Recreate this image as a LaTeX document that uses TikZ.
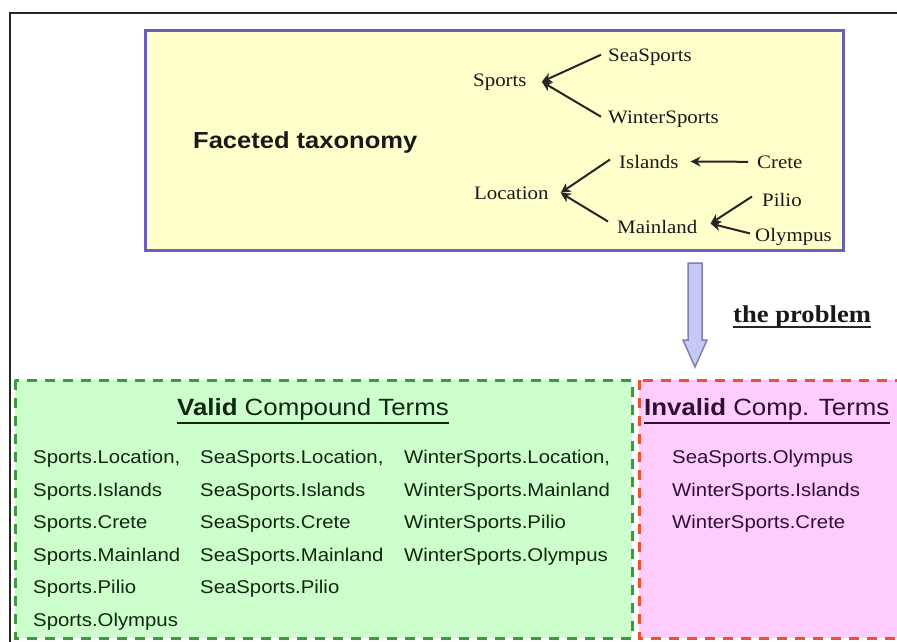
\documentclass[tikz,border=0pt]{standalone}
\usepackage{fontspec}
\setmainfont{Liberation Serif}
\newfontfamily\taxfont{Liberation Serif}[FakeStretch=1.1]
\newfontfamily\termfont{Liberation Sans}[FakeStretch=1.1]
\usetikzlibrary{arrows.meta}

\definecolor{frameblue}{HTML}{6A5FC0}
\definecolor{paleyellow}{HTML}{FFFFCC}
\definecolor{palegreen}{HTML}{CCFFCC}
\definecolor{dashgreen}{HTML}{3C9A3C}
\definecolor{palepink}{HTML}{FFCCFF}
\definecolor{dashred}{HTML}{F0502A}
\definecolor{arrowfill}{HTML}{C6C9F4}
\definecolor{arrowedge}{HTML}{7E80B0}
\definecolor{greentext}{HTML}{102810}
\definecolor{pinktext}{HTML}{2E1030}

\tikzset{
  tax/.style={font=\taxfont\fontsize{19}{22}\selectfont, text=black!90,
    inner sep=3pt, anchor=base west},
  link/.style={line width=2pt, draw=black!85,
    -{Stealth[length=10pt,width=10pt]}},
  term/.style={font=\termfont\fontsize{18.5}{22}\selectfont,
    anchor=base west, inner sep=0pt},
  vterm/.style={term, text=greentext},
  iterm/.style={term, text=pinktext},
  heading/.style={font=\termfont\fontsize{23.5}{28}\selectfont,
    anchor=base west, inner sep=0pt},
  termbox/.style={line width=3pt, dash pattern=on 10pt off 8pt},
  headrule/.style={line width=1.2pt},
}

\begin{document}
\begin{tikzpicture}[x=1pt, y=-1pt]
  \useasboundingbox (0,0) rectangle (897,641);
  \clip (0,0) rectangle (897,641);

  % outer frame
  \draw[line width=2pt, black!85] (10,13) rectangle (960,700);

  % taxonomy panel
  \draw[line width=3pt, draw=frameblue, fill=paleyellow] (145,30) rectangle (843,250);
  \node[font=\termfont\bfseries\fontsize{23.2}{28}\selectfont, anchor=base west,
        inner sep=0pt, text=black!90] (ft) at (193,148) {Faceted taxonomy};

  \node[tax] (sports) at (470,86) {Sports};
  \node[tax] (sea)    at (605,61) {SeaSports};
  \node[tax] (winter) at (605,123) {WinterSports};
  \node[tax] (loc)    at (471,199) {Location};
  \node[tax] (isl)    at (616,168) {Islands};
  \node[tax] (crete)  at (754,168) {Crete};
  \node[tax] (main)   at (614,233) {Mainland};
  \node[tax] (pilio)  at (759,206) {Pilio};
  \node[tax] (olymp)  at (752,241) {Olympus};

  \draw[link] ([xshift=-4pt,yshift=2pt]sea.west)    -- ([xshift=12pt]sports.east);
  \draw[link] ([xshift=-4pt,yshift=2pt]winter.west) -- ([xshift=12pt]sports.east);
  \draw[link] ([xshift=-6pt]crete.west) -- ([xshift=9pt]isl.east);
  \draw[link] ([xshift=-6pt,yshift=2pt]isl.west)  -- ([xshift=9pt]loc.east);
  \draw[link] ([xshift=-6pt,yshift=5pt]main.west) -- ([xshift=9pt]loc.east);
  \draw[link] ([xshift=-7pt,yshift=3pt]pilio.west) -- ([xshift=10pt,yshift=3pt]main.east);
  \draw[link] ([xshift=-2pt,yshift=3pt]olymp.west) -- ([xshift=10pt,yshift=3pt]main.east);

  % block arrow and its label
  \draw[line width=1.5pt, draw=arrowedge, fill=arrowfill, line join=miter]
    (688,263) -- (702,263) -- (702,340) -- (707,340) -- (695,367)
    -- (683,340) -- (688,340) -- cycle;
  \node[font=\taxfont\bfseries\fontsize{24.2}{30}\selectfont, anchor=base west,
        inner sep=0pt, text=black!90] (prob) at (733,322) {the problem};
  \draw[headrule, black!85] ([yshift=-5pt]prob.base west) -- ([yshift=-5pt]prob.base east);

  % valid compound terms
  \draw[termbox, draw=dashgreen, fill=palegreen] (15,380) rectangle (632,638);
  \node[heading, text=greentext] (vh) at (177,415)
    {\textbf{Valid} Compound Terms};
  \draw[headrule, greentext] ([yshift=-8pt]vh.base west) -- ([yshift=-8pt]vh.base east);

  \node[vterm] (a1) at (33,463.5) {Sports.Location,};
  \node[vterm] (a2) at (33,496)   {Sports.Islands};
  \node[vterm] (a3) at (33,528.5) {Sports.Crete};
  \node[vterm] (a4) at (33,561)   {Sports.Mainland};
  \node[vterm] (a5) at (33,593.5) {Sports.Pilio};
  \node[vterm] (a6) at (33,626)   {Sports.Olympus};

  \node[vterm] (b1) at (200,463.5) {SeaSports.Location,};
  \node[vterm] (b2) at (200,496)   {SeaSports.Islands};
  \node[vterm] (b3) at (200,528.5) {SeaSports.Crete};
  \node[vterm] (b4) at (200,561)   {SeaSports.Mainland};
  \node[vterm] (b5) at (200,593.5) {SeaSports.Pilio};

  \node[vterm] (c1) at (404,463.5) {WinterSports.Location,};
  \node[vterm] (c2) at (404,496)   {WinterSports.Mainland};
  \node[vterm] (c3) at (404,528.5) {WinterSports.Pilio};
  \node[vterm] (c4) at (404,561)   {WinterSports.Olympus};

  % invalid compound terms
  \draw[termbox, draw=dashred, fill=palepink] (639,380) rectangle (910,638);
  \node[heading, text=pinktext] (ih) at (644,415)
    {\textbf{Invalid} Comp. Terms};
  \draw[headrule, pinktext] ([yshift=-8pt]ih.base west) -- ([yshift=-8pt]ih.base east);

  \node[iterm] (d1) at (672,463.5) {SeaSports.Olympus};
  \node[iterm] (d2) at (672,496)   {WinterSports.Islands};
  \node[iterm] (d3) at (672,528.5) {WinterSports.Crete};
\end{tikzpicture}
\end{document}
